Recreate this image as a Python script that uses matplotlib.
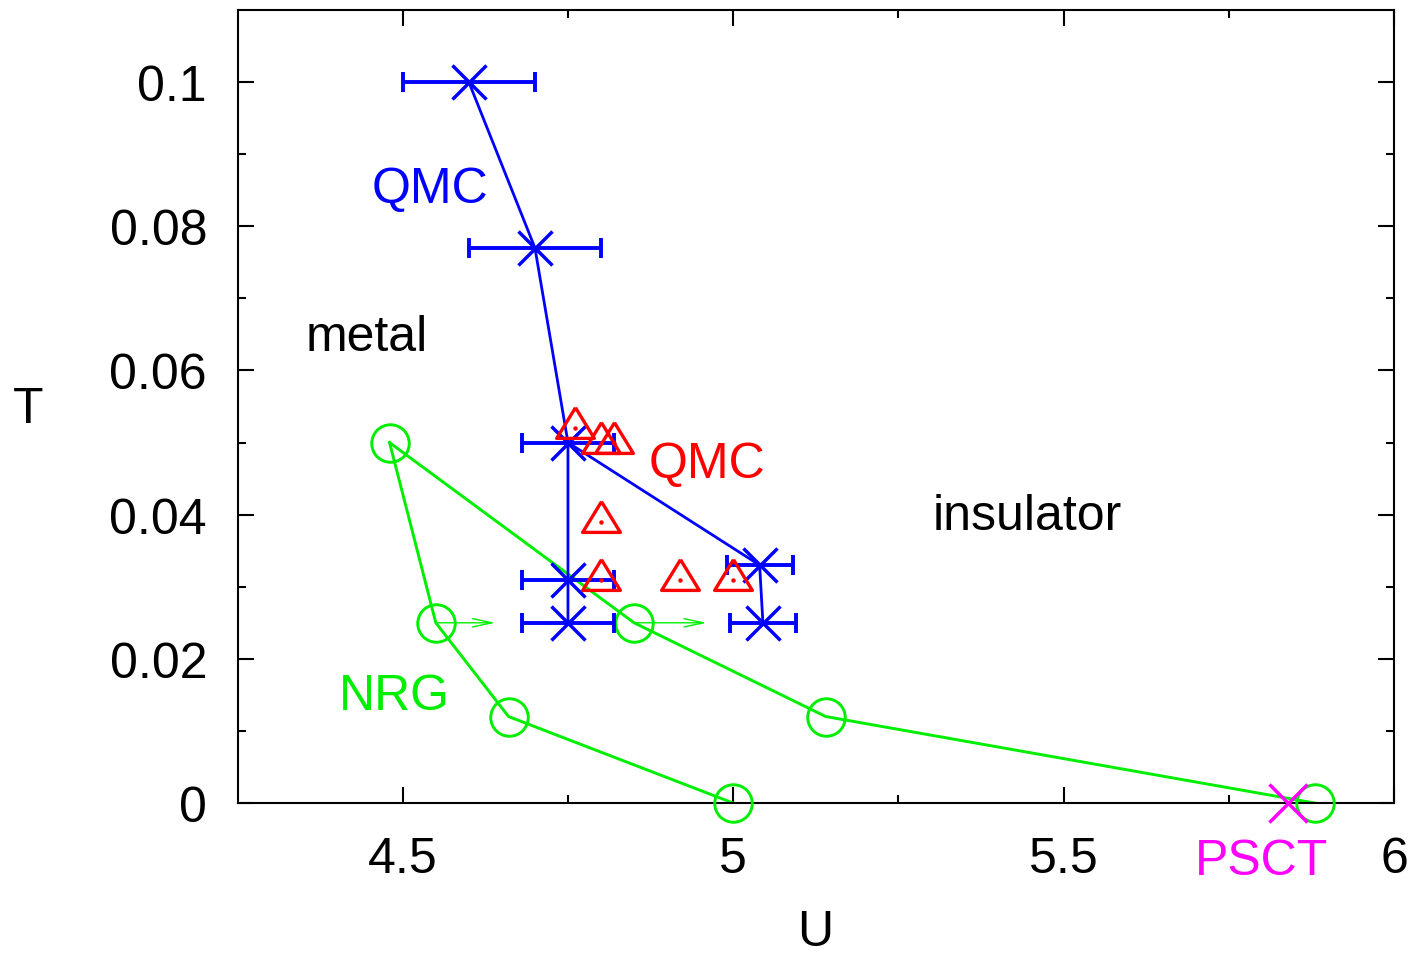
import numpy as np
import matplotlib
matplotlib.use("Agg")
import matplotlib.pyplot as plt

plt.rcParams["font.family"] = ["Liberation Sans", "DejaVu Sans"]

# QMC critical points (blue), with U error bars
qmc_u = [4.6, 4.7, 4.75, 4.75, 4.75, 5.04, 5.045]
qmc_t = [0.1, 0.077, 0.05, 0.031, 0.025, 0.033, 0.025]
qmc_err = [0.1, 0.1, 0.07, 0.07, 0.07, 0.05, 0.05]
# line branches (indices into the above)
qmc_branch1 = [0, 1, 2, 3, 4]
qmc_branch2 = [2, 5, 6]

# QMC (red triangles)
qmc2_u = [4.76, 4.80, 4.82, 4.80, 4.80, 4.92, 5.00]
qmc2_t = [0.052, 0.050, 0.050, 0.039, 0.031, 0.031, 0.031]

# NRG (green circles), two branches
nrg1_u = [4.48, 4.55, 4.66, 5.0]
nrg1_t = [0.05, 0.025, 0.012, 0.0]
nrg2_u = [4.48, 4.85, 5.14, 5.88]
nrg2_t = [0.05, 0.025, 0.012, 0.0]

# arrows from NRG points at T=0.025
arrow_start = [4.55, 4.85]
arrow_end = [4.64, 4.96]
arrow_t = 0.025

# PSCT point
psct_u = [5.84]
psct_t = [0.0]

blue = "#0000ff"
red = "#ff0000"
green = "#00ee00"
magenta = "#ff00ff"

fig = plt.figure(figsize=(14.2, 9.54), dpi=100)
ax = fig.add_axes([0.1673, 0.1572, 0.9817 - 0.1673, 0.9885 - 0.1572])

# green NRG lines + circles
ax.plot(nrg1_u, nrg1_t, "-", color=green, lw=2.1, zorder=2)
ax.plot(nrg2_u, nrg2_t, "-", color=green, lw=2.1, zorder=2)
ax.plot(nrg1_u + nrg2_u[1:], nrg1_t + nrg2_t[1:], "o", ms=27, mfc="none",
        mec=green, mew=2.1, zorder=3, clip_on=False)
for u0, u1 in zip(arrow_start, arrow_end):
    ax.annotate("", xy=(u1, arrow_t), xytext=(u0, arrow_t),
                arrowprops=dict(arrowstyle="->,head_length=1.4,head_width=0.3",
                                color=green, lw=1.0, shrinkA=0, shrinkB=0,
                                mutation_scale=10), zorder=3)

# blue QMC
u = np.array(qmc_u)
t = np.array(qmc_t)
ax.plot(u[qmc_branch1], t[qmc_branch1], "-", color=blue, lw=2.0, zorder=4)
ax.plot(u[qmc_branch2], t[qmc_branch2], "-", color=blue, lw=2.0, zorder=4)
ax.errorbar(qmc_u, qmc_t, xerr=qmc_err, fmt="none", ecolor=blue,
            elinewidth=2.8, capsize=7, capthick=2.8, zorder=4)
ax.plot(qmc_u, qmc_t, "x", ms=25, mew=2.5, color=blue, zorder=5)

# red triangles
tri = [(0, 1.0), (-0.905, -0.476), (0.905, -0.476), (0, 1.0)]
ax.plot(qmc2_u, qmc2_t, linestyle="none", marker=tri, ms=30, mfc="none",
        mec=red, mew=2.4, zorder=6)
ax.plot(qmc2_u, qmc2_t, linestyle="none", marker="o", ms=2.2, color=red,
        zorder=6)

# PSCT
ax.plot(psct_u, psct_t, "x", ms=27, mew=2.5, color=magenta, zorder=7,
        clip_on=False)

fs = 36
ax.text(4.541, 0.0852, "QMC", color=blue, fontsize=fs, ha="center", va="center")
ax.text(4.446, 0.0647, "metal", color="black", fontsize=fs, ha="center", va="center")
ax.text(4.960, 0.0470, "QMC", color=red, fontsize=fs, ha="center", va="center")
ax.text(5.445, 0.0398, "insulator", color="black", fontsize=fs, ha="center", va="center")
ax.text(4.487, 0.0148, "NRG", color=green, fontsize=fs, ha="center", va="center")
ax.text(5.800, -0.0080, "PSCT", color=magenta, fontsize=fs, ha="center",
        va="center", clip_on=False)

ax.set_xlim(4.25, 6.0)
ax.set_ylim(0, 0.11)
ax.set_xticks([4.5, 5, 5.5, 6])
ax.set_xticklabels(["4.5", "5", "5.5", "6"])
ax.set_xticks([4.75, 5.25, 5.75], minor=True)
ax.set_yticks([0, 0.02, 0.04, 0.06, 0.08, 0.1])
ax.set_yticklabels(["0", "0.02", "0.04", "0.06", "0.08", "0.1"])
ax.set_yticks([0.01, 0.03, 0.05, 0.07, 0.09], minor=True)

ax.tick_params(which="both", direction="in", top=True, right=True,
               width=1.5, labelsize=fs)
ax.tick_params(which="major", length=11.5)
ax.tick_params(which="minor", length=5.8)
ax.tick_params(axis="x", which="major", pad=24)
ax.tick_params(axis="y", which="major", pad=22)
for s in ax.spines.values():
    s.set_linewidth(1.5)

ax.set_xlabel("U", fontsize=fs, va="baseline")
ax.set_ylabel("T", fontsize=fs, rotation=0, va="center", ha="center")
ax.xaxis.set_label_coords(0.4995, -0.179)
ax.yaxis.set_label_coords(-0.181, 0.497)

fig.savefig("out.png", dpi=100)
